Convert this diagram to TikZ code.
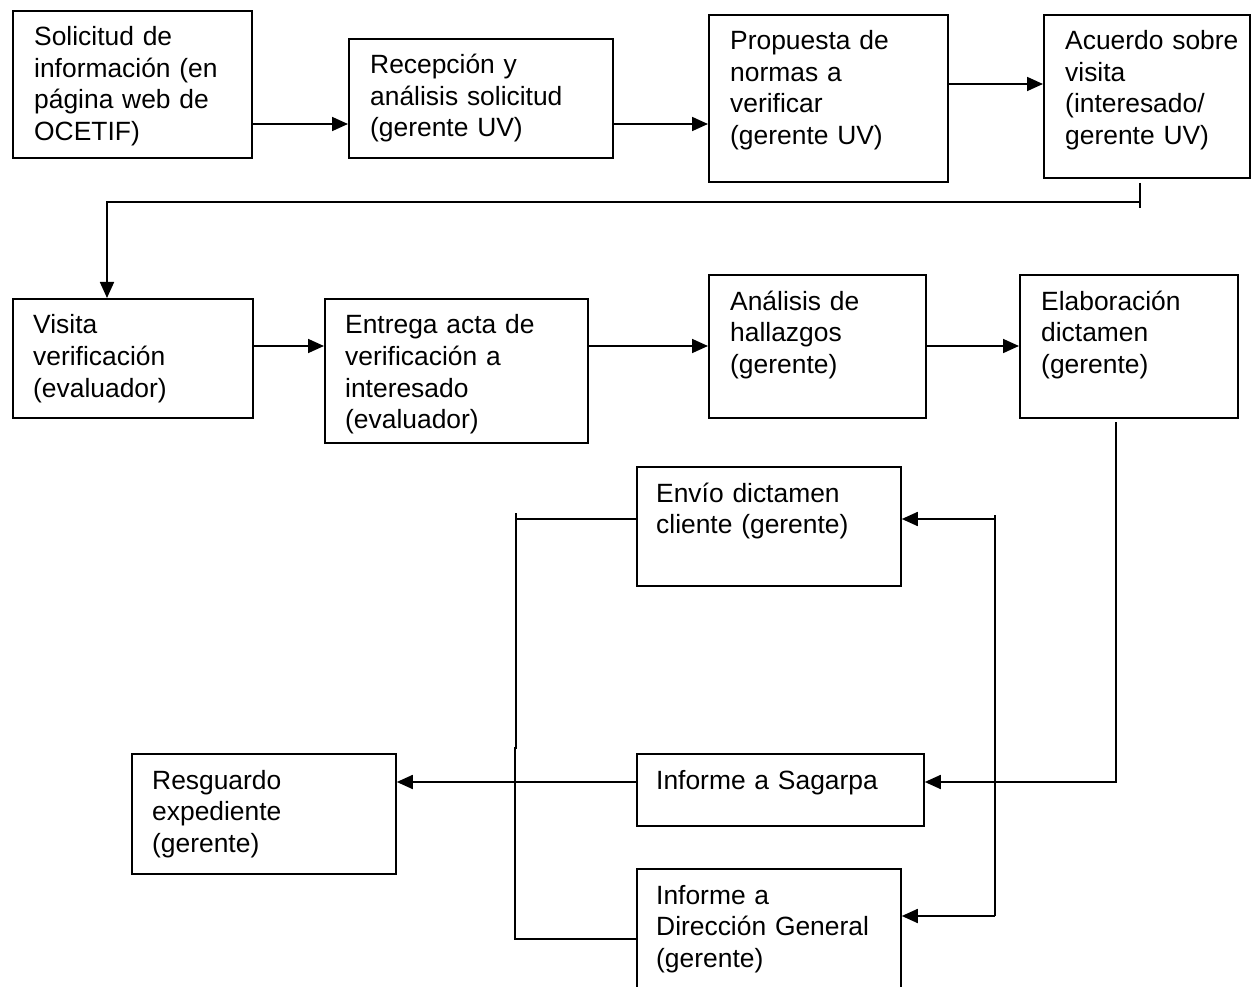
\documentclass[tikz,border=0pt]{standalone}
\usepackage{fontspec}
\setmainfont{Liberation Sans}
\usetikzlibrary{arrows.meta}
\newcommand{\mkbox}[8]{%
  \node[box, minimum width={#4-#2}, minimum height={#5-#3}] (#1) at (#2,#3) {};
  \node[txt, text width=#7] (#1t) at (#6,#3+36) {#8};
}
\begin{document}
\begin{tikzpicture}[x=1pt,y=-1pt,
  box/.style={draw, line width=1.8pt, inner sep=0pt, anchor=north west},
  txt/.style={font=\fontsize{26.4pt}{31.5pt}\selectfont, inner sep=0pt, align=left, anchor=base west},
  arr/.style={line width=1.8pt, -{Triangle[length=16pt,width=14pt]}},
  ln/.style={line width=1.8pt}]
\useasboundingbox (0,0) rectangle (1251,987);
% row 1
\mkbox{b1}{12}{10}{251}{157}{34}{213pt}{Solicitud de\\información (en\\página web de\\OCETIF)}
\mkbox{b2}{348}{38}{612}{157}{370}{238pt}{Recepción y\\análisis solicitud\\(gerente UV)}
\mkbox{b3}{708}{14}{947}{181}{730}{213pt}{Propuesta de\\normas a\\verificar\\(gerente UV)}
\mkbox{b4}{1043}{14}{1249}{177}{1065}{182pt}{Acuerdo sobre\\visita\\(interesado/\\gerente UV)}
% row 2
\mkbox{c1}{12}{298}{252}{417}{33}{215pt}{Visita\\verificación\\(evaluador)}
\mkbox{c2}{324}{298}{587}{442}{345}{238pt}{Entrega acta de\\verificación a\\interesado\\(evaluador)}
\mkbox{c3}{708}{274}{925}{417}{730}{190pt}{Análisis de\\hallazgos\\(gerente)}
\mkbox{c4}{1019}{274}{1237}{417}{1041}{190pt}{Elaboración\\dictamen\\(gerente)}
% lower part
\mkbox{d1}{636}{466}{900}{585}{656}{240pt}{Envío dictamen\\cliente (gerente)}
\mkbox{d2}{636}{753}{923}{825}{656}{262pt}{Informe a Sagarpa}
\mkbox{d3}{636}{868}{900}{995}{656}{240pt}{Informe a\\Dirección General\\(gerente)}
\mkbox{d4}{131}{753}{395}{873}{152}{238pt}{Resguardo\\expediente\\(gerente)}
% connectors row 1
\draw[arr] (b1.east |- 0,124) -- (b2.west |- 0,124);
\draw[arr] (b2.east |- 0,124) -- (b3.west |- 0,124);
\draw[arr] (b3.east |- 0,84) -- (b4.west |- 0,84);
% from b4 to c1
\coordinate (t1) at (1140,183);
\coordinate (t2) at (1140,208);
\coordinate (k1) at (1140,202);
\coordinate (k2) at (107,202);
\draw[ln] (t1) -- (t2);
\draw[arr] (k1) -- (k2) -- (k2 |- c1.north);
% row 2
\draw[arr] (c1.east |- 0,346) -- (c2.west |- 0,346);
\draw[arr] (c2.east |- 0,346) -- (c3.west |- 0,346);
\draw[arr] (c3.east |- 0,346) -- (c4.west |- 0,346);
% from c4 to d2
\coordinate (e1) at (1116,422);
\draw[arr] (e1) -- (e1 |- 0,782) -- (d2.east |- 0,782);
% right bus
\coordinate (r0) at (995,515);
\coordinate (r1) at (995,519);
\coordinate (r2) at (995,916);
\draw[ln] (r0) -- (r2);
\draw[arr] (r1) -- (d1.east |- r1);
\draw[arr] (r2) -- (d3.east |- r2);
% left bus
\coordinate (l0) at (516,513);
\coordinate (l1) at (516,519);
\coordinate (l2) at (516,748);
\coordinate (l3) at (515,748);
\coordinate (l4) at (515,939);
\draw[ln] (d1.west |- l1) -- (l1);
\draw[ln] (l0) -- (l2) -- (l3) -- (l4) -- (d3.west |- l4);
% Sagarpa to Resguardo
\draw[arr] (d2.west |- 0,782) -- (d4.east |- 0,782);
\end{tikzpicture}
\end{document}
